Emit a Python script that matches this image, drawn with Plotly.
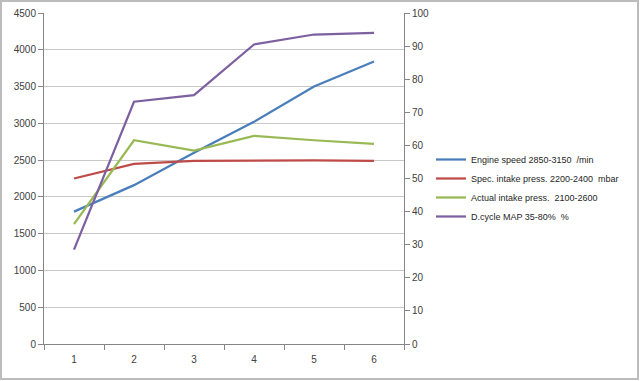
import plotly.graph_objects as go

categories = ["1", "2", "3", "4", "5", "6"]
engine_speed = [1800, 2160, 2600, 3020, 3500, 3840]
spec_intake = [2250, 2450, 2490, 2495, 2495, 2490]
actual_intake = [1630, 2770, 2630, 2830, 2770, 2720]
dcycle_map = [28.5, 73.2, 75.2, 90.5, 93.5, 94.0]

names = ["Engine speed 2850-3150  /min", "Spec. intake press. 2200-2400  mbar",
         "Actual intake press.  2100-2600", "D.cycle MAP 35-80%  %"]
colors = ["#4a7ebb", "#be4b48", "#98b954", "#7d60a0"]

fig = go.Figure()
for vals, nm, c, ax in [(engine_speed, names[0], colors[0], "y"),
                        (spec_intake, names[1], colors[1], "y"),
                        (actual_intake, names[2], colors[2], "y"),
                        (dcycle_map, names[3], colors[3], "y2")]:
    fig.add_trace(go.Scatter(x=categories, y=vals, name=nm, mode="lines",
                             line=dict(color=c, width=2.25), yaxis=ax))

axis_font = dict(family="Liberation Sans, Arial", size=10, color="#404040")
fig.update_layout(
    width=640, height=381,
    margin=dict(l=44, r=236, t=13, b=37, autoexpand=False),
    paper_bgcolor="white", plot_bgcolor="white",
    showlegend=True,
    legend=dict(xref="container", yref="container", x=431/640, y=1 - 145/381,
                xanchor="left", yanchor="top",
                font=dict(family="Liberation Sans, Arial", size=9, color="#262626"),
                itemwidth=30, tracegroupgap=0, bgcolor="rgba(0,0,0,0)"),
    xaxis=dict(type="category", tickson="boundaries", ticks="outside", ticklen=5,
               range=[-0.5, 5.5], ticklabelstandoff=6,
               tickcolor="#868686", showline=True, linecolor="#868686", linewidth=1,
               showgrid=False, tickfont=axis_font, zeroline=False),
    yaxis=dict(range=[0, 4500], dtick=500, ticks="outside", ticklen=5,
               tickcolor="#868686", showline=True, linecolor="#868686",
               gridcolor="#c8c8c8", gridwidth=1, zeroline=False, tickfont=axis_font),
    yaxis2=dict(range=[0, 100], dtick=10, overlaying="y", side="right",
                ticks="outside", ticklen=5, tickcolor="#868686", showline=True,
                linecolor="#868686", showgrid=False, zeroline=False, tickfont=axis_font),
    shapes=[dict(type="rect", xref="paper", yref="paper",
                 x0=-43/360, x1=(638-44)/360, y0=-(379-344)/331, y1=1 + 12/331,
                 line=dict(color="#bcbcbc", width=2), fillcolor="rgba(0,0,0,0)")],
)
fig.write_html("out.html", config={"displayModeBar": False},
               post_script="document.body.style.margin='0';")
